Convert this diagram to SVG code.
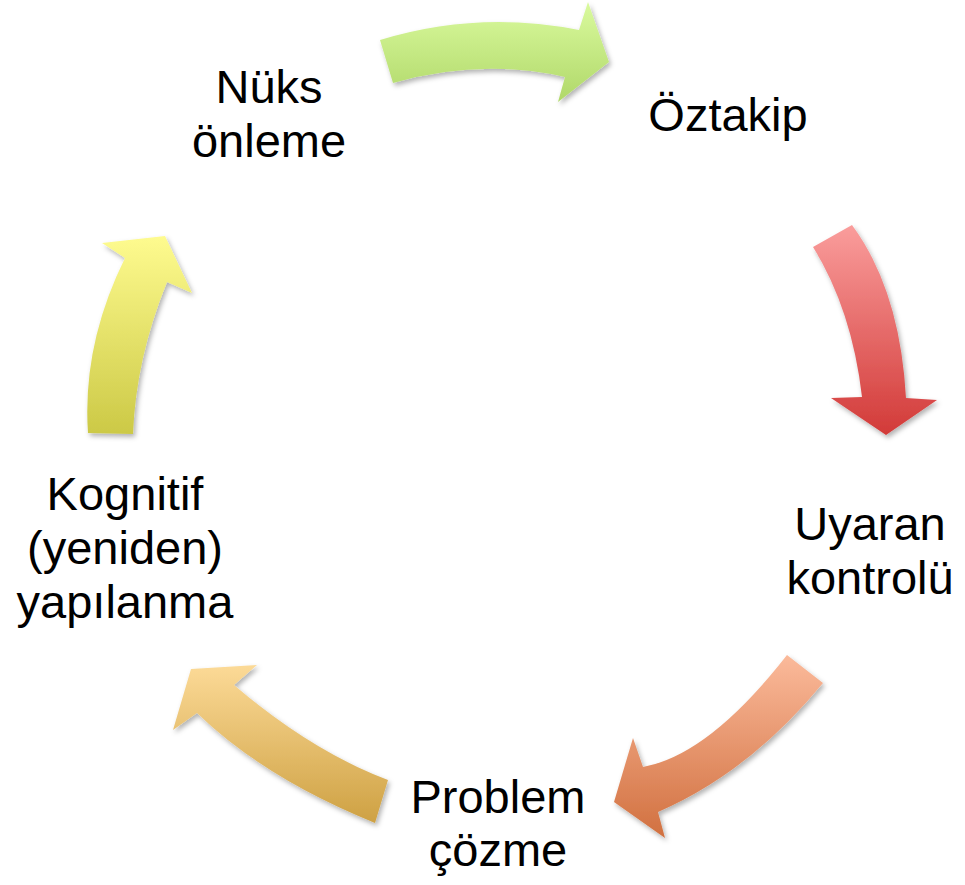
<svg xmlns="http://www.w3.org/2000/svg" width="965" height="885" viewBox="0 0 965 885">
  <style>
    .lbl { font-family: "Liberation Sans", Arial, sans-serif; font-size: 47px; fill: #000; text-anchor: middle; }
    .arr { filter: url(#sh); }
  </style>
  <defs>
    <filter id="sh" x="-20%" y="-20%" width="140%" height="140%">
      <feDropShadow dx="2" dy="3" stdDeviation="2.5" flood-color="#000" flood-opacity="0.3"/>
    </filter>
    <linearGradient id="gGreen" x1="0" y1="0" x2="0" y2="1">
      <stop offset="0" stop-color="#dafa9e"/>
      <stop offset="1" stop-color="#b0d869"/>
    </linearGradient>
    <linearGradient id="gRed" x1="0" y1="0" x2="0" y2="1">
      <stop offset="0" stop-color="#fa9d9c"/>
      <stop offset="1" stop-color="#d23a38"/>
    </linearGradient>
    <linearGradient id="gOrange" x1="0" y1="0" x2="0" y2="1">
      <stop offset="0" stop-color="#fbba9b"/>
      <stop offset="1" stop-color="#d1703f"/>
    </linearGradient>
    <linearGradient id="gGold" x1="0" y1="0" x2="0" y2="1">
      <stop offset="0" stop-color="#fcda97"/>
      <stop offset="1" stop-color="#cea143"/>
    </linearGradient>
    <linearGradient id="gYellow" x1="0" y1="0" x2="0" y2="1">
      <stop offset="0" stop-color="#fefb8f"/>
      <stop offset="1" stop-color="#ccc946"/>
    </linearGradient>
  </defs>

  <g id="connectors">
    <path class="arr" fill="url(#gGreen)" d="M380,40 Q478,10 579,30 L588,2 L609,62 L558,102 L565,77 Q480,58 393,83 Z"/>
    <path class="arr" fill="url(#gRed)" d="M813,247 L852,225 Q900,290 906,398 L937,400 L886,435 L831,398 L862,397 Q852,310 813,247 Z"/>
    <path class="arr" fill="url(#gOrange)" d="M787,655 L823,683 Q750,772 658,812 L665,838 L614,802 L633,738 L643,767 Q709,755 787,655 Z"/>
    <path class="arr" fill="url(#gGold)" d="M388,780 L375,823 Q264,778 197,713 L173,730 L191,669 L257,665 L234,685 Q311,751 388,780 Z"/>
    <path class="arr" fill="url(#gYellow)" d="M133,434 L88,433 Q82,345 125,258 L102,243 L165,236 L192,293 L167,282 Q136,358 133,434 Z"/>
  </g>

  <g id="node-nuks">
    <text class="lbl" x="269" y="103">Nüks</text>
    <text class="lbl" x="269" y="157">önleme</text>
  </g>
  <g id="node-oztakip">
    <text class="lbl" x="728" y="131">Öztakip</text>
  </g>
  <g id="node-uyaran">
    <text class="lbl" x="870" y="540">Uyaran</text>
    <text class="lbl" x="870" y="594">kontrolü</text>
  </g>
  <g id="node-problem">
    <text class="lbl" x="498" y="813">Problem</text>
    <text class="lbl" x="498" y="866">çözme</text>
  </g>
  <g id="node-kognitif">
    <text class="lbl" x="125" y="510">Kognitif</text>
    <text class="lbl" x="125" y="564">(yeniden)</text>
    <text class="lbl" x="125" y="618">yapılanma</text>
  </g>
</svg>
